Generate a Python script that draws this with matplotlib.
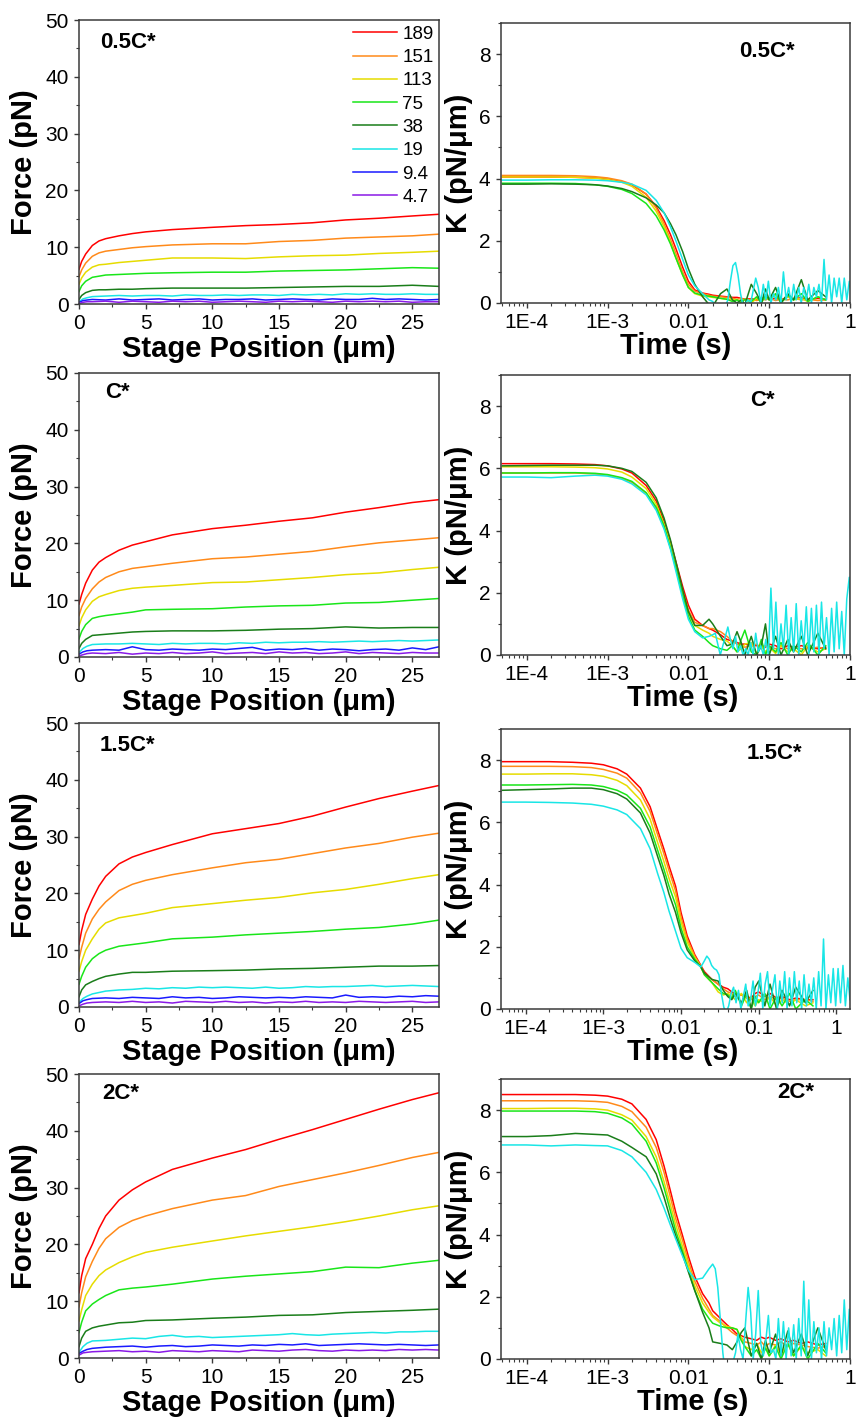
import matplotlib
matplotlib.use("Agg")
import matplotlib.pyplot as plt
from matplotlib.ticker import MultipleLocator, LogLocator, NullFormatter

plt.rcParams["font.family"] = ["Liberation Sans", "DejaVu Sans"]

# ---- series info ----
LABELS = ["189", "151", "113", "75", "38", "19", "9.4", "4.7"]
COLORS = ["#ff0000", "#ff8a1a", "#e6dc00", "#19e619", "#1a7d1a",
          "#19e6e6", "#1a1aff", "#8a1ae6"]
PANELS = ["0.5C*", "C*", "1.5C*", "2C*"]

# ---- force vs stage position ----
X_SMOOTH = [0, 0.2, 0.5, 1, 1.5, 2, 3, 4, 5, 7, 10, 12.5, 15, 17.5, 20, 22.5, 25, 27]
X_NOISY = [0, 0.3, 0.6] + list(range(1, 28))

# red, orange, yellow, green, dark green
F_05 = [
    [6.1, 7.5, 8.8, 10.3, 11.1, 11.5, 12.0, 12.4, 12.7, 13.1, 13.5, 13.8, 14.0, 14.3, 14.8, 15.1, 15.5, 15.8],
    [4.8, 6.0, 7.2, 8.4, 9.0, 9.3, 9.6, 9.9, 10.1, 10.4, 10.6, 10.6, 11.0, 11.2, 11.6, 11.8, 12.0, 12.3],
    [3.5, 4.6, 5.6, 6.5, 6.9, 7.0, 7.3, 7.5, 7.7, 8.1, 8.1, 8.0, 8.3, 8.5, 8.6, 8.9, 9.1, 9.3],
    [2.2, 3.2, 4.0, 4.7, 4.9, 5.1, 5.2, 5.3, 5.4, 5.5, 5.6, 5.6, 5.8, 5.9, 6.0, 6.2, 6.4, 6.3],
    [0.8, 1.5, 2.0, 2.4, 2.5, 2.5, 2.6, 2.6, 2.7, 2.8, 2.8, 2.8, 2.9, 3.0, 3.1, 3.1, 3.3, 3.1],
]
# cyan, blue, purple
F_05_LOW = [
    [0.4, 0.9, 1.1, 1.3, 1.4, 1.5, 1.4, 1.5, 1.5, 1.4, 1.6, 1.5, 1.5, 1.6, 1.5, 1.6, 1.6, 1.5, 1.7, 1.6, 1.7, 1.6, 1.8, 1.7, 1.8, 1.7, 1.7, 1.8, 1.7, 1.7],
    [0.3, 0.6, 0.7, 0.8, 0.7, 0.9, 0.7, 0.8, 0.9, 0.7, 0.8, 0.9, 0.7, 0.8, 0.8, 0.9, 0.7, 0.8, 0.9, 0.8, 0.7, 0.9, 0.8, 0.8, 1.0, 0.8, 0.9, 0.8, 0.7, 0.8],
    [0.1, 0.3, 0.4, 0.4, 0.5, 0.3, 0.5, 0.4, 0.3, 0.5, 0.4, 0.5, 0.3, 0.4, 0.5, 0.4, 0.3, 0.5, 0.4, 0.5, 0.4, 0.3, 0.5, 0.4, 0.5, 0.4, 0.5, 0.3, 0.4, 0.4],
]
F_10 = [
    [9.3, 11.0, 13.0, 15.3, 16.7, 17.5, 18.8, 19.7, 20.3, 21.5, 22.6, 23.2, 23.9, 24.5, 25.5, 26.3, 27.2, 27.7],
    [7.3, 8.8, 10.3, 12.0, 13.2, 14.0, 15.0, 15.6, 15.9, 16.5, 17.3, 17.6, 18.1, 18.6, 19.4, 20.1, 20.6, 21.0],
    [5.5, 6.9, 8.3, 9.8, 10.6, 11.0, 11.7, 12.1, 12.3, 12.6, 13.1, 13.2, 13.6, 14.0, 14.5, 14.8, 15.4, 15.8],
    [3.2, 4.5, 5.7, 6.8, 7.1, 7.3, 7.6, 7.9, 8.3, 8.4, 8.5, 8.8, 9.0, 9.1, 9.5, 9.6, 10.0, 10.3],
    [1.5, 2.4, 3.1, 3.8, 3.9, 4.0, 4.2, 4.4, 4.5, 4.6, 4.6, 4.7, 4.9, 5.0, 5.3, 5.1, 5.2, 5.2],
]
F_10_LOW = [
    [0.8, 1.5, 1.9, 2.2, 2.3, 2.3, 2.4, 2.3, 2.2, 2.4, 2.3, 2.4, 2.4, 2.3, 2.5, 2.4, 2.6, 2.5, 2.6, 2.6, 2.7, 2.6, 2.7, 2.8, 2.7, 2.8, 2.9, 2.8, 2.9, 3.0],
    [0.5, 0.9, 1.1, 1.2, 1.3, 1.2, 1.8, 1.3, 1.2, 1.4, 1.3, 1.2, 1.4, 1.3, 1.5, 1.7, 1.2, 1.4, 1.3, 1.5, 1.2, 1.4, 1.3, 1.1, 1.3, 1.4, 1.2, 1.6, 1.3, 1.8],
    [0.2, 0.4, 0.6, 0.7, 0.6, 0.8, 0.5, 0.7, 0.6, 0.8, 0.6, 0.7, 0.9, 0.6, 0.7, 0.8, 0.6, 0.9, 0.7, 0.8, 0.6, 0.7, 0.9, 0.6, 0.8, 0.7, 0.6, 0.8, 0.7, 0.7],
]
F_15 = [
    [11.0, 13.5, 16.3, 19.0, 21.3, 23.0, 25.2, 26.4, 27.2, 28.6, 30.5, 31.4, 32.3, 33.6, 35.2, 36.7, 38.0, 39.0],
    [8.5, 10.5, 13.0, 15.5, 17.2, 18.5, 20.5, 21.6, 22.3, 23.3, 24.5, 25.4, 26.0, 27.0, 28.0, 28.8, 29.9, 30.6],
    [6.3, 8.0, 10.0, 12.0, 13.7, 14.8, 15.7, 16.1, 16.5, 17.5, 18.2, 18.8, 19.3, 20.1, 20.7, 21.6, 22.6, 23.3],
    [4.0, 5.4, 7.0, 8.5, 9.4, 10.0, 10.7, 11.0, 11.3, 12.0, 12.3, 12.7, 13.0, 13.3, 13.7, 14.0, 14.6, 15.3],
    [1.8, 3.0, 3.9, 4.5, 5.0, 5.4, 5.8, 6.1, 6.1, 6.3, 6.4, 6.5, 6.7, 6.8, 7.0, 7.2, 7.2, 7.3],
]
F_15_LOW = [
    [0.8, 1.5, 1.9, 2.3, 2.8, 3.0, 3.1, 3.3, 3.2, 3.4, 3.3, 3.5, 3.4, 3.5, 3.4, 3.3, 3.5, 3.3, 3.4, 3.6, 3.5, 3.6, 3.6, 3.7, 3.8, 3.6, 3.7, 3.8, 3.7, 3.6],
    [0.6, 1.1, 1.3, 1.5, 1.6, 1.5, 1.7, 1.6, 1.5, 1.8, 1.6, 1.7, 1.5, 1.6, 1.8, 1.7, 1.6, 1.7, 1.6, 1.8, 1.7, 1.6, 2.1, 1.7, 1.8, 1.7, 1.9, 1.8, 2.0, 1.9],
    [0.2, 0.5, 0.7, 0.8, 0.9, 0.8, 1.0, 0.8, 0.9, 0.7, 1.0, 0.9, 0.8, 1.0, 0.8, 0.9, 0.7, 0.9, 0.8, 1.0, 0.8, 0.9, 0.8, 1.0, 0.9, 0.8, 0.9, 1.0, 0.8, 0.9],
]
F_20 = [
    [11.5, 14.5, 17.5, 20.0, 22.8, 25.0, 27.8, 29.6, 31.0, 33.2, 35.2, 36.7, 38.5, 40.2, 42.0, 43.8, 45.5, 46.7],
    [9.0, 11.5, 14.3, 17.0, 19.3, 21.0, 23.0, 24.2, 25.0, 26.3, 27.8, 28.6, 30.2, 31.4, 32.6, 33.9, 35.3, 36.2],
    [6.5, 8.5, 11.0, 13.0, 14.5, 15.5, 16.8, 17.8, 18.6, 19.5, 20.6, 21.5, 22.3, 23.1, 24.0, 25.0, 26.1, 26.8],
    [4.5, 6.3, 8.3, 9.5, 10.3, 11.0, 12.0, 12.3, 12.5, 13.0, 13.9, 14.4, 14.8, 15.2, 16.0, 15.9, 16.7, 17.2],
    [2.0, 3.5, 4.7, 5.3, 5.6, 5.8, 6.2, 6.3, 6.6, 6.7, 7.0, 7.2, 7.5, 7.6, 8.0, 8.2, 8.4, 8.6],
]
F_20_LOW = [
    [1.0, 2.0, 2.6, 3.0, 3.1, 3.3, 3.5, 3.4, 3.8, 4.0, 3.7, 3.8, 3.6, 3.7, 3.8, 3.9, 4.0, 4.1, 4.3, 4.1, 4.0, 4.2, 4.3, 4.4, 4.5, 4.4, 4.6, 4.6, 4.7, 4.7],
    [0.8, 1.2, 1.5, 1.7, 1.9, 2.0, 2.1, 1.9, 2.1, 2.2, 2.0, 2.1, 2.3, 2.2, 2.1, 2.3, 2.2, 2.4, 2.3, 2.5, 2.2, 2.3, 2.4, 2.5, 2.4, 2.3, 2.4, 2.3, 2.2, 2.3],
    [0.5, 0.9, 1.0, 1.1, 1.2, 1.3, 1.1, 1.2, 1.0, 1.3, 1.2, 1.1, 1.3, 1.2, 1.1, 1.4, 1.3, 1.2, 1.4, 1.5, 1.3, 1.2, 1.4, 1.3, 1.4, 1.3, 1.5, 1.4, 1.5, 1.4],
]

# ---- K vs time ----
T_MAIN = [5e-5, 1e-4, 2e-4, 4e-4, 7e-4, 1e-3, 1.5e-3, 2e-3, 3e-3, 4e-3,
          5e-3, 6e-3, 7e-3, 8.5e-3, 1e-2, 1.2e-2, 1.5e-2, 1.8e-2]
T_TAIL = [0.02, 0.025, 0.03, 0.035, 0.04, 0.045, 0.05, 0.06, 0.07, 0.08,
          0.09, 0.1, 0.12, 0.14, 0.17, 0.2, 0.25, 0.3, 0.4, 0.5]
T_DENSE = [0.02, 0.0215, 0.0231, 0.0248, 0.0267, 0.0287, 0.0308, 0.0331, 0.0356, 0.0383,
           0.0411, 0.0442, 0.0475, 0.0511, 0.0549, 0.059, 0.0634, 0.0681, 0.0732, 0.0787,
           0.0846, 0.0909, 0.0977, 0.105, 0.113, 0.121, 0.13, 0.14, 0.15, 0.162,
           0.174, 0.187, 0.201, 0.216, 0.232, 0.249, 0.268, 0.288, 0.309, 0.333,
           0.357, 0.384, 0.413, 0.444, 0.477, 0.512, 0.551, 0.592, 0.636, 0.684,
           0.735, 0.79, 0.849, 0.912, 0.98, 1.053, 1.132, 1.217, 1.308, 1.406, 1.5]

# red, orange, yellow, green, dark green, cyan on T_MAIN
K_05 = [
    [4.05, 4.05, 4.05, 4.04, 4.02, 3.98, 3.9, 3.8, 3.5, 3.1, 2.65, 2.2, 1.75, 1.15, 0.7, 0.42, 0.32, 0.28],
    [4.1, 4.1, 4.1, 4.09, 4.06, 4.02, 3.93, 3.82, 3.5, 3.05, 2.55, 2.05, 1.6, 1.0, 0.6, 0.38, 0.3, 0.25],
    [4.05, 4.05, 4.05, 4.04, 4.01, 3.97, 3.88, 3.75, 3.4, 2.95, 2.45, 1.95, 1.45, 0.9, 0.5, 0.3, 0.22, 0.2],
    [3.85, 3.85, 3.85, 3.84, 3.8, 3.75, 3.65, 3.52, 3.2, 2.8, 2.35, 1.9, 1.45, 0.9, 0.5, 0.32, 0.25, 0.22],
    [3.82, 3.82, 3.83, 3.82, 3.8, 3.76, 3.68, 3.58, 3.38, 3.15, 2.9, 2.55, 2.2, 1.65, 1.1, 0.6, 0.2, -0.05],
    [3.95, 3.95, 3.96, 3.96, 3.95, 3.93, 3.88, 3.82, 3.62, 3.3, 2.9, 2.45, 2.0, 1.4, 0.9, 0.55, 0.3, 0.1],
]
# red..dark green on T_TAIL
K_05_TAIL = [
    [0.25, 0.22, 0.2, 0.18, 0.18, 0.15, 0.12, 0.14, 0.1, 0.15, 0.18, 0.12, 0.15, 0.1, 0.2, 0.12, 0.18, 0.1, 0.15, 0.12],
    [0.22, 0.2, 0.18, 0.15, 0.12, 0.15, 0.1, 0.12, 0.08, 0.12, 0.1, 0.15, 0.08, 0.12, 0.1, 0.15, 0.1, 0.12, 0.08, 0.1],
    [0.18, 0.15, 0.12, 0.1, 0.1, 0.05, 0.12, 0.0, 0.15, 0.05, 0.2, 0.1, 0.25, 0.05, 0.2, 0.1, 0.15, 0.05, 0.2, 0.1],
    [0.2, 0.15, 0.12, 0.05, 0.1, 0.0, 0.12, 0.05, 0.2, 0.0, 0.25, 0.1, 0.3, 0.0, 0.25, 0.1, 0.3, 0.05, 0.2, 0.1],
    [-0.1, 0.3, 0.45, 0.1, 0.0, 0.1, -0.05, 0.6, 0.3, 0.0, 0.45, 0.1, 0.5, 0.0, 0.3, 0.1, 0.75, 0.1, 0.4, 0.2],
]
# cyan on T_DENSE
K_05_CYAN = [0.05, -0.1, -0.2, -0.25, -0.2, -0.1, 0.1, 0.7, 1.2, 1.3,
             0.9, 0.3, -0.1, 0.0, 0.1, 0.0, 0.4, 0.8, 0.5, 0.0,
             0.6, 0.1, 0.7, 0.0, 0.3, 0.1, 0.5, 0.0, 1.0, 0.1,
             0.5, 0.0, 0.6, 0.1, 0.5, 0.0, 0.5, 0.1, 0.6, 0.0,
             0.5, 0.2, 0.6, 0.0, 1.4, 0.1, 0.9, 0.0, 0.8, 0.2,
             0.8, 0.0, 0.8, 0.1, 0.7, 0.2, 0.6, 0.1, 0.7, 0.0, 0.5]

K_10 = [
    [6.15, 6.15, 6.15, 6.14, 6.12, 6.08, 5.98, 5.85, 5.45, 4.95, 4.3, 3.65, 3.0, 2.2, 1.6, 1.15, 0.95, 0.85],
    [5.85, 5.85, 5.85, 5.85, 5.82, 5.78, 5.68, 5.55, 5.2, 4.7, 4.1, 3.45, 2.85, 2.05, 1.45, 1.05, 0.95, 0.85],
    [6.05, 6.05, 6.05, 6.04, 6.02, 5.98, 5.88, 5.72, 5.35, 4.85, 4.2, 3.55, 2.85, 2.0, 1.35, 0.95, 0.8, 0.7],
    [5.85, 5.85, 5.86, 5.86, 5.84, 5.8, 5.7, 5.58, 5.22, 4.75, 4.15, 3.45, 2.8, 1.9, 1.25, 0.8, 0.6, 0.4],
    [6.08, 6.09, 6.1, 6.1, 6.1, 6.08, 6.0, 5.9, 5.55, 5.05, 4.4, 3.7, 3.0, 2.1, 1.4, 0.95, 0.95, 1.15],
    [5.72, 5.72, 5.7, 5.75, 5.78, 5.75, 5.65, 5.5, 5.15, 4.65, 4.05, 3.4, 2.7, 1.8, 1.15, 0.75, 0.55, 0.6],
]
K_10_TAIL = [
    [0.8, 0.65, 0.5, 0.45, 0.4, 0.35, 0.35, 0.3, 0.3, 0.3, 0.25, 0.35, 0.3, 0.2, 0.3, 0.25, 0.3, 0.25, 0.2, 0.25],
    [0.85, 0.75, 0.6, 0.45, 0.35, 0.3, 0.25, 0.3, 0.35, 0.2, 0.3, 0.25, 0.2, 0.3, 0.2, 0.25, 0.2, 0.2, 0.25, 0.2],
    [0.6, 0.5, 0.45, 0.3, 0.1, 0.2, 0.35, 0.4, 0.05, 0.3, 0.1, 0.25, 0.05, 0.3, 0.1, 0.2, 0.0, 0.3, 0.1, 0.2],
    [0.3, 0.2, 0.15, 0.3, 0.1, 0.5, 0.8, 0.1, 0.0, 0.5, 0.0, 0.3, 0.1, 0.4, 0.0, 0.3, 0.1, 0.4, 0.0, 0.3],
    [1.0, 0.6, 0.3, 0.35, 0.75, 0.4, 0.0, 0.6, 0.0, 0.3, 1.0, 0.0, 0.6, 0.0, 0.5, 0.1, 0.6, 0.0, 0.7, 0.2],
]
K_10_CYAN = [0.65, 0.7, 0.35, 0.0, 0.3, 0.6, 0.9, 0.5, 0.2, 0.6,
             0.1, 0.3, 0.0, 0.2, 0.0, 0.4, 0.0, 0.7, 0.1, 0.3,
             0.0, 0.5, 0.0, 2.15, 0.2, 1.7, 0.0, 1.0, 0.2, 1.6,
             0.0, 1.2, 0.1, 1.65, 0.0, 1.1, 0.2, 1.55, 0.0, 1.5,
             0.1, 1.6, 0.0, 1.7, 0.2, 1.2, 0.0, 1.5, 0.1, 1.7,
             0.2, 1.4, 0.0, 1.8, 2.5, 0.2, 1.5, 0.1, 1.2, 0.3, 0.5]

K_15 = [
    [7.95, 7.95, 7.95, 7.93, 7.9, 7.85, 7.72, 7.55, 7.1, 6.5, 5.75, 5.15, 4.6, 3.95, 3.1, 2.35, 1.75, 1.4],
    [7.8, 7.8, 7.8, 7.79, 7.76, 7.7, 7.58, 7.42, 6.95, 6.35, 5.6, 5.0, 4.45, 3.8, 2.95, 2.25, 1.7, 1.38],
    [7.55, 7.55, 7.56, 7.56, 7.53, 7.48, 7.35, 7.18, 6.72, 6.1, 5.35, 4.75, 4.2, 3.6, 2.8, 2.15, 1.65, 1.35],
    [7.2, 7.2, 7.21, 7.22, 7.2, 7.15, 7.03, 6.88, 6.45, 5.85, 5.1, 4.5, 3.95, 3.35, 2.6, 2.0, 1.6, 1.35],
    [7.03, 7.05, 7.07, 7.1, 7.1, 7.05, 6.92, 6.75, 6.3, 5.65, 4.9, 4.3, 3.7, 3.1, 2.45, 1.9, 1.55, 1.35],
    [6.65, 6.65, 6.64, 6.62, 6.58, 6.52, 6.4, 6.25, 5.8, 5.15, 4.35, 3.75, 3.15, 2.5, 1.95, 1.65, 1.5, 1.35],
]
K_15_TAIL = [
    [1.2, 0.95, 0.8, 0.7, 0.65, 0.55, 0.5, 0.45, 0.4, 0.35, 0.5, 0.55, 0.4, 0.5, 0.35, 0.4, 0.3, 0.35, 0.3, 0.3],
    [1.15, 0.95, 0.8, 0.65, 0.55, 0.5, 0.4, 0.45, 0.35, 0.3, 0.4, 0.45, 0.3, 0.4, 0.3, 0.35, 0.25, 0.3, 0.3, 0.25],
    [1.1, 0.85, 0.55, 0.45, 0.5, 0.4, 0.3, 0.5, 0.2, 0.4, 0.1, 0.3, 0.2, 0.4, 0.1, 0.3, 0.15, 0.3, 0.1, 0.2],
    [1.1, 0.85, 0.65, 0.5, 0.45, 0.35, 0.6, 0.1, 0.5, 0.0, 0.4, 0.2, 0.5, 0.0, 0.4, 0.1, 0.5, 0.0, 0.3, 0.1],
    [1.15, 0.95, 0.9, 0.6, 0.4, 0.3, 0.5, 0.2, 0.6, 0.0, 0.7, 0.9, 0.1, 0.8, 0.0, 0.6, 0.1, 0.7, 0.2, 0.6],
]
K_15_CYAN = [1.55, 1.7, 1.6, 1.4, 1.3, 1.25, 1.1, 0.5, 0.05, -0.1,
             0.1, 0.5, 0.7, 0.2, 0.6, 0.0, 0.4, 0.8, 0.1, 0.3,
             0.9, 0.1, 0.5, 1.15, 0.0, 0.8, 1.2, 0.1, 0.6, 1.1,
             0.0, 0.9, 0.2, 1.2, 0.0, 1.0, 0.1, 1.2, 0.2, 0.9,
             0.0, 1.1, 0.1, 0.8, 0.2, 1.0, 0.0, 1.2, 0.1, 2.25,
             0.0, 1.1, 0.2, 1.3, 0.1, 1.3, 0.2, 1.4, 0.1, 1.0, 0.3]

K_20 = [
    [8.5, 8.5, 8.5, 8.5, 8.48, 8.45, 8.35, 8.2, 7.7, 7.05, 6.2, 5.4, 4.7, 3.95, 3.3, 2.65, 2.1, 1.8],
    [8.3, 8.3, 8.3, 8.3, 8.28, 8.25, 8.12, 7.95, 7.45, 6.8, 6.0, 5.2, 4.5, 3.8, 3.15, 2.5, 1.95, 1.6],
    [8.05, 8.05, 8.06, 8.06, 8.04, 8.0, 7.85, 7.68, 7.15, 6.5, 5.7, 4.95, 4.3, 3.6, 3.0, 2.35, 1.8, 1.5],
    [7.97, 7.97, 7.97, 7.97, 7.95, 7.9, 7.75, 7.55, 7.0, 6.3, 5.5, 4.75, 4.1, 3.45, 2.85, 2.2, 1.6, 1.3],
    [7.15, 7.15, 7.18, 7.25, 7.22, 7.2, 7.0, 6.8, 6.5, 5.95, 5.2, 4.5, 3.95, 3.35, 2.8, 2.2, 1.5, 1.0],
    [6.88, 6.88, 6.85, 6.88, 6.86, 6.85, 6.7, 6.5, 6.0, 5.45, 4.85, 4.3, 3.85, 3.3, 2.85, 2.55, 2.6, 2.9],
]
K_20_TAIL = [
    [1.55, 1.3, 1.1, 0.95, 0.8, 0.75, 0.7, 0.65, 0.6, 0.7, 0.65, 0.7, 0.6, 0.65, 0.55, 0.6, 0.5, 0.55, 0.45, 0.5],
    [1.4, 1.2, 1.0, 0.85, 0.75, 0.7, 0.55, 0.5, 0.45, 0.55, 0.4, 0.5, 0.45, 0.55, 0.4, 0.5, 0.45, 0.4, 0.35, 0.4],
    [1.35, 1.15, 1.05, 1.0, 0.95, 0.7, 0.4, 0.3, 0.5, 0.2, 0.4, 0.1, 0.45, 0.15, 0.5, 0.1, 0.4, 0.2, 0.3, 0.1],
    [1.15, 1.05, 1.0, 1.0, 0.95, 0.6, 0.4, 0.1, 0.3, 0.0, 0.35, 0.1, 0.4, 0.0, 0.5, 0.1, 0.45, 0.0, 0.5, 0.2],
    [0.55, 0.5, 0.45, 0.3, 0.55, 0.85, 1.0, 0.1, 0.5, 0.0, 0.6, 0.2, 0.8, 0.1, 0.9, 0.2, 0.8, 0.1, 1.0, 0.3],
]
K_20_CYAN = [3.05, 2.9, 2.3, 1.3, 0.2, -0.5, -0.8, -0.5, -0.1, 0.2,
             0.8, 0.3, 0.0, 1.2, 2.3, 1.5, 0.0, 0.8, 2.2, 0.5,
             0.1, 0.6, 1.4, 0.2, 0.3, 0.0, 1.3, 0.1, 1.2, 0.0,
             1.0, 0.1, 1.1, 0.0, 1.3, 0.1, 2.5, 0.1, 1.9, 0.0,
             1.2, 0.2, 1.0, 0.0, 1.2, 0.1, 1.0, 0.3, 1.3, 0.1,
             1.4, 0.2, 1.9, 0.3, 1.6, 0.2, 1.2, 0.1, 1.0, 0.3, 0.8]

FORCE = [(F_05, F_05_LOW), (F_10, F_10_LOW), (F_15, F_15_LOW), (F_20, F_20_LOW)]
STIFF = [(K_05, K_05_TAIL, K_05_CYAN), (K_10, K_10_TAIL, K_10_CYAN),
         (K_15, K_15_TAIL, K_15_CYAN), (K_20, K_20_TAIL, K_20_CYAN)]
T_MAX = [1.0, 1.0, 1.5, 1.0]

# layout (pixel boxes measured on the 858x1420 reference)
W, H = 858, 1420
LEFT_ROWS = [(20, 304), (373, 657), (723, 1007), (1074, 1358)]
RIGHT_ROWS = [(23, 303), (375, 655), (729, 1009), (1079, 1359)]
LEFT_TXT = [(0.058, 0.92), (0.072, 0.93), (0.058, 0.92), (0.064, 0.933)]
RIGHT_TXT = [(0.683, 0.90), (0.713, 0.91), (0.705, 0.914), (0.792, 0.95)]
TIME_LBL_X = [0.50, 0.52, 0.52, 0.55]

SPINE = "#3a3a3a"
LW = 1.1


def style(ax):
    for s in ax.spines.values():
        s.set_color(SPINE)
        s.set_linewidth(1.1)
    ax.tick_params(which="both", direction="out", colors=SPINE,
                   labelcolor="black", top=False, right=False, labelsize=15, pad=4)
    ax.tick_params(which="major", length=3.5, width=1.0)
    ax.tick_params(which="minor", length=2.0, width=0.8)


fig = plt.figure(figsize=(W / 100, H / 100), dpi=100)

for r in range(4):
    # ---------- force panel ----------
    top, bot = LEFT_ROWS[r]
    ax = fig.add_axes([79 / W, 1 - bot / H, 360 / W, (bot - top) / H])
    smooth, low = FORCE[r]
    lines = []
    for i, ys in enumerate(smooth):
        ln, = ax.plot(X_SMOOTH, ys, color=COLORS[i], lw=LW, label=LABELS[i])
        lines.append(ln)
    for j, ys in enumerate(low):
        ln, = ax.plot(X_NOISY, ys, color=COLORS[5 + j], lw=LW, label=LABELS[5 + j])
        lines.append(ln)
    ax.set_xlim(0, 27)
    ax.set_ylim(0, 50)
    ax.xaxis.set_major_locator(MultipleLocator(5))
    ax.xaxis.set_minor_locator(MultipleLocator(2.5))
    ax.yaxis.set_major_locator(MultipleLocator(10))
    ax.yaxis.set_minor_locator(MultipleLocator(5))
    style(ax)
    ax.set_xlabel("Stage Position (μm)", fontsize=21, fontweight="bold")
    ax.set_ylabel("Force (pN)", fontsize=21, fontweight="bold")
    ax.xaxis.set_label_coords(0.5, -0.11)
    ax.yaxis.set_label_coords(-0.114, 0.5)
    tx, ty = LEFT_TXT[r]
    ax.text(tx, ty, PANELS[r], transform=ax.transAxes, fontsize=16,
            fontweight="bold", ha="left", va="center")
    if r == 0:
        ax.legend(handles=lines, loc="upper right", frameon=False, fontsize=13.5,
                  handlelength=2.3, handletextpad=0.3, labelspacing=0.33,
                  borderaxespad=0.1, borderpad=0.2)

    # ---------- stiffness panel ----------
    top, bot = RIGHT_ROWS[r]
    ax = fig.add_axes([501 / W, 1 - bot / H, 349 / W, (bot - top) / H])
    main, tail, cyan = STIFF[r]
    for i in range(5):
        ax.plot(T_MAIN + T_TAIL, main[i] + tail[i], color=COLORS[i], lw=LW)
    ax.plot(T_MAIN + T_DENSE, main[5] + cyan, color=COLORS[5], lw=LW)
    ax.set_xscale("log")
    ax.set_xlim(4.8e-5, T_MAX[r])
    ax.set_ylim(0, 9)
    ticks = [1e-4, 1e-3, 1e-2, 1e-1, 1]
    ax.set_xticks(ticks)
    ax.set_xticklabels(["1E-4", "1E-3", "0.01", "0.1", "1"])
    ax.xaxis.set_minor_locator(LogLocator(base=10, subs=range(2, 10), numticks=20))
    ax.xaxis.set_minor_formatter(NullFormatter())
    ax.yaxis.set_major_locator(MultipleLocator(2))
    ax.yaxis.set_minor_locator(MultipleLocator(1))
    style(ax)
    ax.set_xlabel("Time (s)", fontsize=21, fontweight="bold")
    ax.set_ylabel("K (pN/μm)", fontsize=21, fontweight="bold")
    ax.xaxis.set_label_coords(TIME_LBL_X[r], -0.105)
    ax.yaxis.set_label_coords(-0.079, 0.5)
    tx, ty = RIGHT_TXT[r]
    ax.text(tx, ty, PANELS[r], transform=ax.transAxes, fontsize=16,
            fontweight="bold", ha="left", va="center")

fig.savefig("out.png", dpi=100)
